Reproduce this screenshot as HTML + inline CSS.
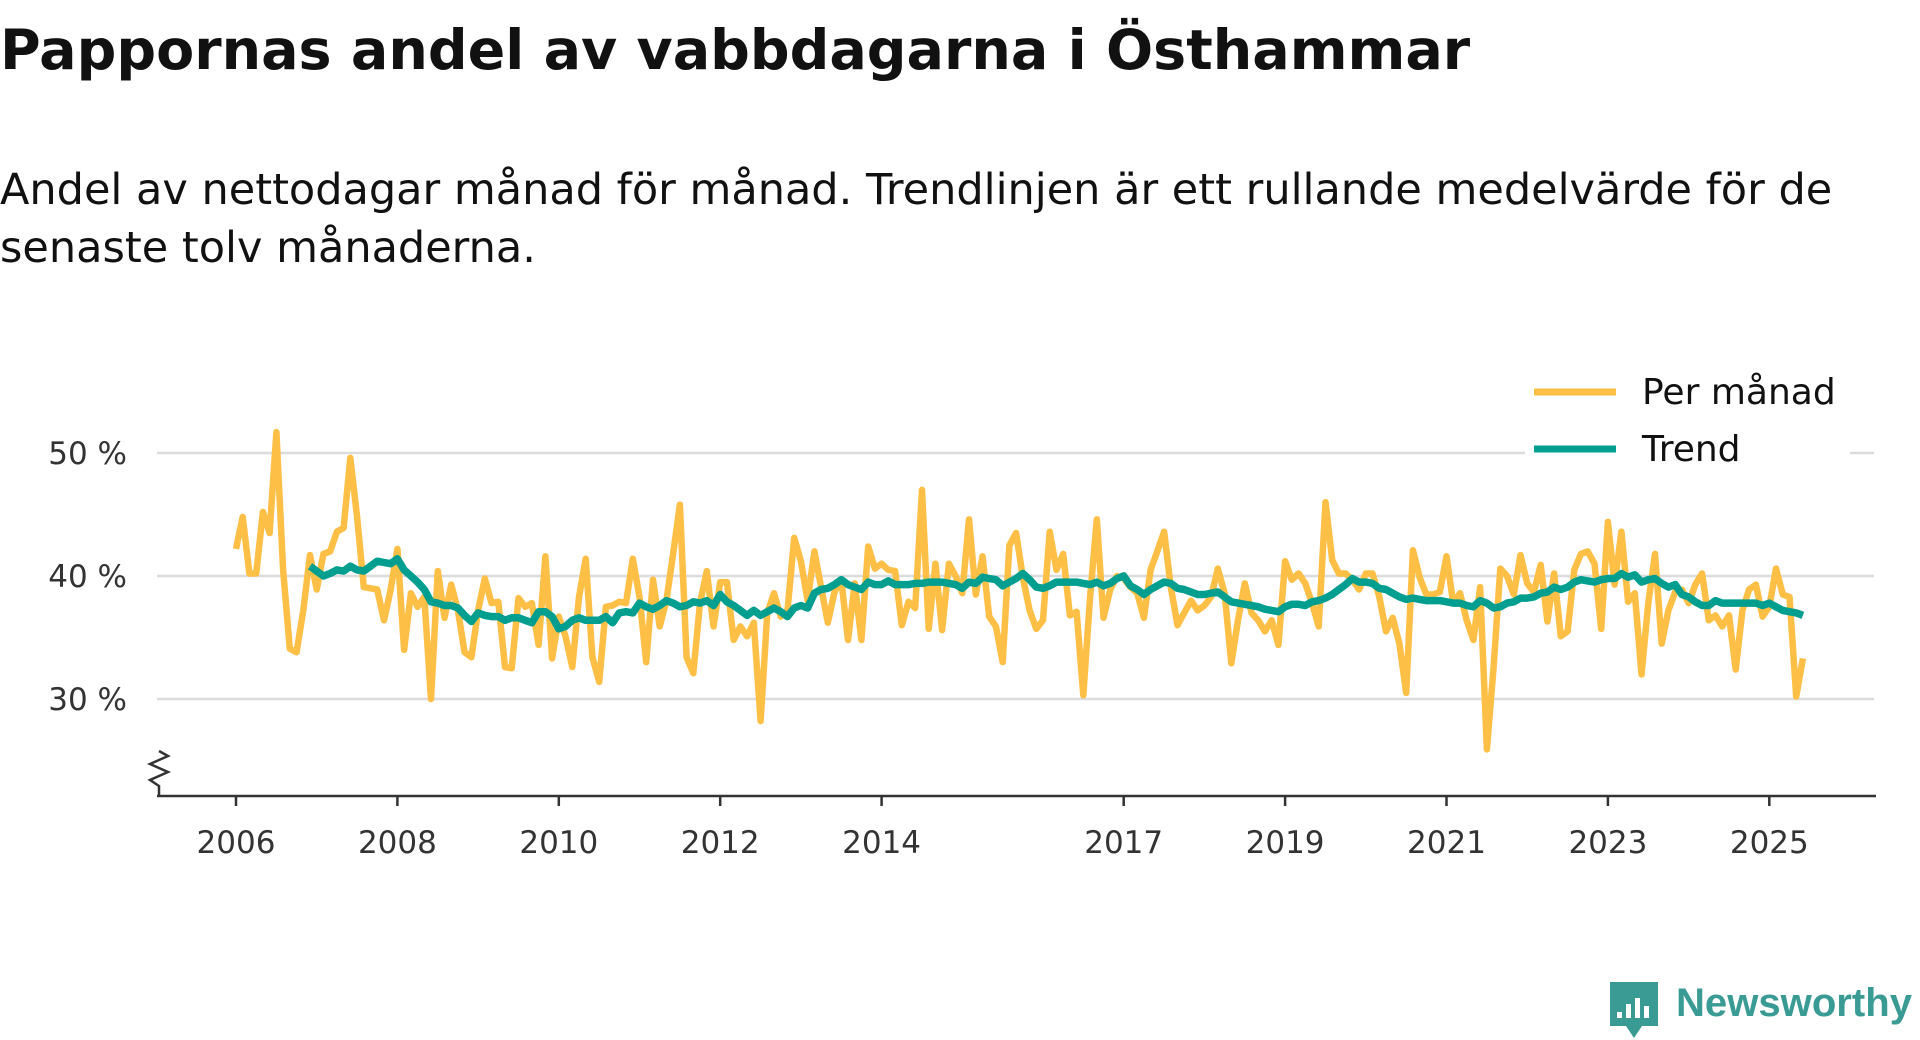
<!DOCTYPE html>
<html><head><meta charset="utf-8">
<style>
html,body{margin:0;padding:0;background:#fff;width:1920px;height:1040px;overflow:hidden;font-family:"DejaVu Sans","Liberation Sans",sans-serif;}
#title{position:absolute;left:0;top:18px;font-size:55.5px;font-weight:bold;color:#111;margin:0;white-space:nowrap;font-family:"DejaVu Sans","Liberation Sans",sans-serif}
#subtitle{position:absolute;left:0;top:161px;font-size:43px;color:#111;line-height:58px;width:1880px;margin:0;font-family:"DejaVu Sans","Liberation Sans",sans-serif}
svg{position:absolute;left:0;top:0}
</style></head><body>
<h1 id="title">Pappornas andel av vabbdagarna i Östhammar</h1>
<p id="subtitle">Andel av nettodagar månad för månad. Trendlinjen är ett rullande medelvärde för de senaste tolv månaderna.</p>
<svg id="chart" width="1920" height="1040"></svg>
<script>
const monthly = [42.2,44.8,40.2,40.2,45.2,43.5,51.7,40.5,34.1,33.8,37.2,41.7,
38.9,41.8,42.0,43.6,43.9,49.6,44.8,39.1,39.0,38.9,36.4,38.9,
42.2,34.0,38.6,37.5,38.3,30.0,40.4,36.6,39.3,37.2,33.8,33.4,
37.2,39.8,37.8,37.9,32.6,32.5,38.2,37.5,37.8,34.4,41.6,33.3,
36.7,35.1,32.6,38.3,41.4,33.4,31.4,37.5,37.6,37.9,37.8,41.4,
38.3,33.0,39.7,35.9,38.0,41.8,45.8,33.4,32.1,37.8,40.4,35.9,
39.5,39.5,34.8,35.9,35.1,36.2,28.2,37.0,38.6,36.7,37.2,43.1,
41.2,38.0,42.0,39.1,36.2,38.7,39.7,34.8,39.4,34.8,42.4,40.6,
41.0,40.5,40.4,36.0,37.9,37.4,47.0,35.7,41.0,35.6,41.0,40.0,
38.6,44.6,38.5,41.6,36.7,35.9,33.0,42.5,43.5,39.9,37.2,35.7,
36.4,43.6,40.5,41.8,36.8,37.1,30.3,38.3,44.6,36.6,38.9,40.0,
39.8,39.1,38.6,36.6,40.5,42.0,43.6,39.1,36.0,37.0,38.0,37.2,
37.6,38.3,40.6,38.6,32.9,36.4,39.4,37.0,36.4,35.5,36.4,34.4,
41.2,39.7,40.2,39.4,37.8,35.9,46.0,41.3,40.2,40.2,39.7,38.9,
40.2,40.2,38.3,35.5,36.6,34.5,30.5,42.1,39.9,38.5,38.5,38.7,
41.6,37.8,38.6,36.4,34.8,39.1,25.9,32.6,40.6,40.0,38.5,41.7,
39.4,38.7,40.9,36.3,40.2,35.1,35.5,40.5,41.8,42.0,41.0,35.7,
44.4,39.3,43.6,37.9,38.6,32.0,37.8,41.8,34.5,37.2,38.7,38.9,
37.8,39.3,40.2,36.4,36.8,35.9,36.8,32.4,37.2,38.9,39.3,36.7,
37.5,40.6,38.5,38.3,30.2,33.3];
const trend = [null,null,null,null,null,null,null,null,null,null,null,
40.8,40.4,40.0,40.2,40.5,40.4,40.8,40.5,40.4,40.8,41.2,41.1,41.0,41.4,40.5,40.0,39.5,38.9,37.9,37.8,37.6,37.6,37.4,36.8,36.3,37.0,36.8,36.7,
36.7,36.4,36.6,36.6,36.4,36.2,37.1,37.1,36.7,35.7,35.9,36.4,36.6,36.4,36.4,36.4,36.7,36.2,37.0,37.1,37.0,37.8,37.5,37.3,37.6,38.0,37.8,37.5,37.6,37.9,37.8,38.0,37.6,38.5,37.9,37.6,37.2,36.8,37.2,
36.8,37.1,37.4,37.1,36.7,37.4,37.6,37.4,38.6,38.9,39.0,39.3,39.7,39.3,39.1,38.9,39.5,39.3,39.3,39.6,39.3,39.3,39.3,39.4,39.4,39.5,39.5,39.5,39.4,39.3,39.0,39.5,39.4,39.9,39.8,39.7,39.2,39.5,39.8,40.2,39.7,39.1,
39.0,39.2,39.5,39.5,39.5,39.5,39.4,39.3,39.5,39.2,39.4,39.8,40.0,39.2,38.9,38.5,38.9,39.2,39.5,39.4,39.0,38.9,38.7,38.5,38.5,38.6,38.7,38.3,37.9,37.8,37.7,37.6,37.5,37.3,37.2,37.1,37.5,37.7,37.7,37.6,
37.9,38.0,38.2,38.5,38.9,39.3,39.8,39.5,39.5,39.4,39.0,38.9,38.6,38.3,38.1,38.2,38.1,38.0,38.0,38.0,37.9,37.8,37.8,37.6,37.5,38.0,37.8,37.4,37.5,37.8,37.9,38.2,38.2,38.3,38.6,38.7,39.1,38.9,39.1,39.5,39.7,
39.6,39.5,39.7,39.8,39.8,40.2,39.9,40.1,39.5,39.7,39.8,39.4,39.1,39.3,38.5,38.3,37.9,37.6,37.6,38.0,37.8,37.8,37.8,37.8,37.8,37.8,37.6,37.8,37.5,37.2,37.1,37.0,36.8];
const yTicks = [30,40,50];
const yTickLabels = ["30 %","40 %","50 %"];
const xTickYears = [2006,2008,2010,2012,2014,2017,2019,2021,2023,2025];
const startYear = 2006;

const NS="http://www.w3.org/2000/svg";
const svg=document.getElementById('chart');
function xScale(monthIndex){return 236 + monthIndex*(80.7/12);}
function yScale(v){return 576 - (v-40)*12.3;}
function mk(tag,attrs){const e=document.createElementNS(NS,tag);for(const k in attrs)e.setAttribute(k,attrs[k]);svg.appendChild(e);return e;}

yTicks.forEach((t,i)=>{
  const g=mk('line',{x1:157,x2:1874,y1:yScale(t),y2:yScale(t),stroke:'#dcdcdc','stroke-width':2.5});
  
  
  const tx=mk('text',{x:127,y:yScale(t)+11,'text-anchor':'end','font-size':31,fill:'#333','font-family':'"DejaVu Sans","Liberation Sans",sans-serif'});
  tx.textContent=yTickLabels[i];
  
  
});
const ax=mk('line',{x1:157,x2:1876,y1:796,y2:796,stroke:'#333','stroke-width':2.5});


const br=mk('path',{d:'M159 796 L159 786 L150 780 L168 772 L150 764 L168 756 L159 751',fill:'none',stroke:'#333','stroke-width':2.5});


xTickYears.forEach(yr=>{
  const x=xScale((yr-startYear)*12);
  const tk=mk('line',{x1:x,x2:x,y1:796,y2:806,stroke:'#333','stroke-width':2.5});
  
  
  const t=mk('text',{x:x,y:853,'text-anchor':'middle','font-size':31,fill:'#333','font-family':'"DejaVu Sans","Liberation Sans",sans-serif'});
  t.textContent=yr;
  
  
});
function pathFor(arr){let d='';let pen=false;arr.forEach((v,i)=>{if(v==null){pen=false;return;}d+=(pen?'L':'M')+xScale(i).toFixed(1)+' '+yScale(v).toFixed(1)+' ';pen=true;});return d;}
const lm=mk('path',{d:pathFor(monthly),fill:'none',stroke:'#fdbf45','stroke-width':6.5,'stroke-linejoin':'round'});


const lt=mk('path',{d:pathFor(trend),fill:'none',stroke:'#009e8f','stroke-width':7.5,'stroke-linejoin':'round'});



const lbg=mk('rect',{x:1525,y:365,width:325,height:100,fill:'#fff'});


[['Per månad','#fdbf45',392],['Trend','#009e8f',449]].forEach(([lab,col,y],i)=>{
  const l=mk('line',{x1:1534,x2:1616,y1:y,y2:y,stroke:col,'stroke-width':7});
  
  
  const t=mk('text',{x:1642,y:y+12,'font-size':36,fill:'#111','font-family':'"DejaVu Sans","Liberation Sans",sans-serif'});
  t.textContent=lab;
  
  
});
const logo=mk('path',{d:'M1610 982 h48 v44 h-16 l-8 12 l-8 -12 h-16 z',fill:'#3a9a94'});


[[1617,1012,6],[1626,1004,14],[1635,998,20],[1644,1006,12]].forEach(([x,y,h],i)=>{
  const b=mk('rect',{x:x,y:y,width:5,height:h,fill:'#fff'});
  
  
});
const lt2=mk('text',{x:1676,y:1016,'font-size':40,'font-weight':'bold',fill:'#3a9a94','font-family':'"Liberation Sans","DejaVu Sans",sans-serif',textLength:236,lengthAdjust:'spacingAndGlyphs'});
lt2.textContent='Newsworthy';


</script>
</body></html>
